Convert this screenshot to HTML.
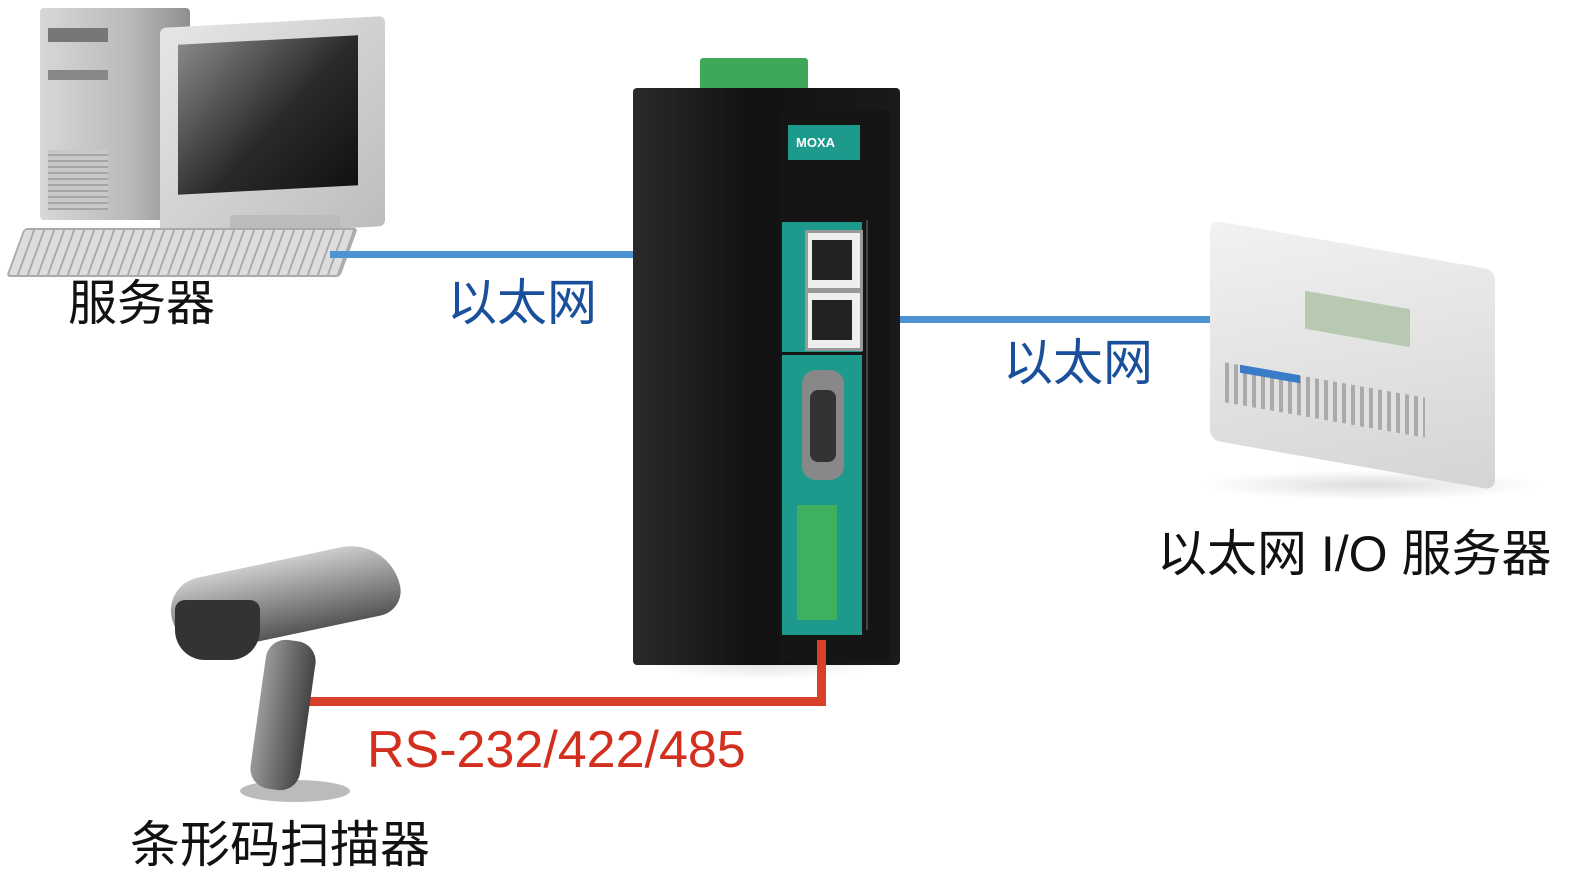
<!DOCTYPE html>
<html><head><meta charset="utf-8"><style>
body{margin:0;width:1586px;height:883px;background:#fff;position:relative;overflow:hidden;font-family:"Liberation Sans","Noto Sans CJK SC",sans-serif}
.a{position:absolute}
.t{position:absolute;white-space:nowrap;line-height:1}
</style></head><body>
<!-- computer tower -->
<div class="a" style="left:40px;top:8px;width:150px;height:212px;background:linear-gradient(90deg,#d8d8d8,#b9b9b9 60%,#8f8f8f);border-radius:4px"></div>
<div class="a" style="left:48px;top:28px;width:60px;height:14px;background:#777"></div>
<div class="a" style="left:48px;top:70px;width:60px;height:10px;background:#888"></div>
<div class="a" style="left:48px;top:150px;width:60px;height:60px;background:repeating-linear-gradient(#c8c8c8 0 4px,#a5a5a5 4px 6px)"></div>
<!-- monitor -->
<div class="a" style="left:160px;top:22px;width:225px;height:210px;background:linear-gradient(135deg,#e6e6e6,#bdbdbd);border-radius:6px;transform:skewY(-3deg)"></div>
<div class="a" style="left:178px;top:40px;width:180px;height:150px;background:linear-gradient(135deg,#888,#2a2a2a 55%,#111);transform:skewY(-3deg)"></div>
<div class="a" style="left:230px;top:215px;width:110px;height:25px;background:#bbb;border-radius:4px"></div>
<!-- keyboard -->
<div class="a" style="left:15px;top:228px;width:330px;height:45px;background:repeating-linear-gradient(90deg,#ddd 0 8px,#a9a9a9 8px 10px);transform:skewX(-20deg);border-radius:4px;border:2px solid #aaa"></div>
<div class="t" style="left:68px;top:280px;font-size:49px;color:#111">服务器</div>
<!-- ethernet lines -->
<div class="a" style="left:330px;top:251px;width:495px;height:7px;background:#4d93d2"></div>
<div class="a" style="left:820px;top:316px;width:408px;height:7px;background:#4d93d2"></div>
<div class="t" style="left:447px;top:278px;font-size:50px;color:#1a4f9c">以太网</div>
<div class="t" style="left:1003px;top:338px;font-size:50px;color:#1a4f9c">以太网</div>
<!-- gateway -->
<div class="a" style="left:700px;top:58px;width:108px;height:44px;background:#3fa858;border-radius:3px"></div>
<div class="a" style="left:640px;top:640px;width:250px;height:40px;background:radial-gradient(#ddd,transparent 70%)"></div>
<div class="a" style="left:633px;top:88px;width:267px;height:577px;background:linear-gradient(90deg,#2a2a2a,#111 45%,#1a1a1a);border-radius:4px"></div>
<div class="a" style="left:780px;top:110px;width:110px;height:550px;background:#151515"></div>
<div class="a" style="left:788px;top:125px;width:72px;height:35px;background:#1e9a8c"></div>
<div class="t" style="left:796px;top:136px;font-size:13px;color:#fff;font-weight:bold">MOXA</div>
<div class="a" style="left:782px;top:222px;width:80px;height:130px;background:#1e9a8c"></div>
<div class="a" style="left:805px;top:230px;width:52px;height:55px;background:#eee;border:3px solid #999"></div>
<div class="a" style="left:805px;top:290px;width:52px;height:55px;background:#eee;border:3px solid #999"></div>
<div class="a" style="left:812px;top:240px;width:40px;height:40px;background:#222"></div>
<div class="a" style="left:812px;top:300px;width:40px;height:40px;background:#222"></div>
<div class="a" style="left:782px;top:355px;width:80px;height:280px;background:#1e9a8c"></div>
<div class="a" style="left:802px;top:370px;width:42px;height:110px;background:#888;border-radius:14px"></div>
<div class="a" style="left:810px;top:390px;width:26px;height:72px;background:#333;border-radius:8px"></div>
<div class="a" style="left:797px;top:505px;width:40px;height:115px;background:#3fb060"></div>
<div class="a" style="left:866px;top:220px;width:2px;height:410px;background:#444"></div>
<!-- I/O server -->
<div class="a" style="left:1200px;top:470px;width:340px;height:30px;background:radial-gradient(#ddd,transparent 70%)"></div>
<div class="a" style="left:1210px;top:245px;width:285px;height:220px;background:linear-gradient(160deg,#f2f2f2,#d4d4d4);border-radius:10px;transform:skewY(10deg)"></div>
<div class="a" style="left:1305px;top:300px;width:105px;height:38px;background:#b7c9b0;transform:skewY(10deg)"></div>
<div class="a" style="left:1225px;top:380px;width:200px;height:40px;background:repeating-linear-gradient(90deg,#aaa 0 4px,#e0e0e0 4px 9px);transform:skewY(10deg)"></div>
<div class="a" style="left:1240px;top:370px;width:60px;height:8px;background:#3a7bc8;transform:skewY(10deg)"></div>
<div class="t" style="left:1157px;top:529px;font-size:50px;color:#111">以太网 I/O 服务器</div>
<!-- serial line -->
<div class="a" style="left:817px;top:640px;width:9px;height:66px;background:#d8402a;border-radius:0 0 8px 0"></div>
<div class="a" style="left:300px;top:697px;width:526px;height:9px;background:#d8402a"></div>
<div class="t" style="left:367px;top:724px;font-size:52px;color:#d32f1e">RS-232/422/485</div>
<!-- scanner -->
<div class="a" style="left:240px;top:780px;width:110px;height:22px;background:#bbb;border-radius:50%"></div>
<div class="a" style="left:258px;top:640px;width:50px;height:150px;background:linear-gradient(90deg,#999,#444);border-radius:20px;transform:rotate(8deg)"></div>
<div class="a" style="left:170px;top:560px;width:230px;height:75px;background:linear-gradient(#ccc,#555);border-radius:40px 60px 30px 50px;transform:rotate(-12deg)"></div>
<div class="a" style="left:175px;top:600px;width:85px;height:60px;background:#333;border-radius:10px 10px 30px 30px"></div>
<div class="t" style="left:130px;top:820px;font-size:50px;color:#111">条形码扫描器</div>
</body></html>
